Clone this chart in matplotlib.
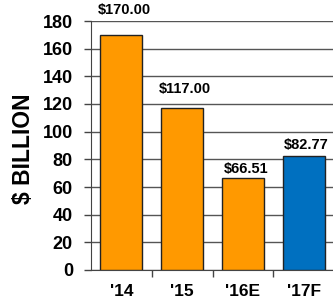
import matplotlib
matplotlib.use('Agg')
from matplotlib import pyplot as plt
import numpy as np

plt.rcParams['font.family'] = ['Liberation Sans', 'DejaVu Sans']
plt.rcParams['font.weight'] = 'bold'

# chart data
years = ["'14", "'15", "'16E", "'17F"]
values = [170.00, 117.00, 66.51, 82.77]
colors = ['#FF9900', '#FF9900', '#FF9900', '#0070C0']

fig = plt.figure(figsize=(3.33, 3.04), dpi=100)
ax = fig.add_axes([91/333, 1 - 270/304, 243/333, 249/304])

x = np.arange(len(years))
bars = ax.bar(x, values, width=0.69, color=colors, edgecolor='#222222', linewidth=1, zorder=3)

# value labels on top of bars (offsets in points, as placed in the original)
label_pad = [13, 9, 1.5, 2.5]
for xi, v, p in zip(x, values, label_pad):
    ax.annotate('$%.2f' % v, (xi, v), xytext=(2, p), textcoords='offset points',
                ha='center', va='bottom', fontsize=10.5, fontweight='bold')

ax.set_xlim(-0.5, len(years) - 0.5)
ax.set_ylim(0, 180)
ax.set_yticks(np.arange(0, 181, 20))
ax.tick_params(axis='y', labelsize=13, length=5, width=1, color='#444444', pad=8)
ax.grid(axis='y', color='#555555', linewidth=1, zorder=0)

ax.set_xticks(x)
ax.set_xticklabels(years, fontsize=12.5, fontweight='bold')
ax.set_xticks(np.arange(0.5, len(years) - 0.5, 1), minor=True)
ax.tick_params(axis='x', which='major', length=0, pad=10)
ax.tick_params(axis='x', which='minor', length=5, width=1, color='#444444')

for s in ['top', 'right']:
    ax.spines[s].set_visible(False)
ax.spines['left'].set_color('#444444')
ax.spines['bottom'].set_color('#444444')

ax.set_ylabel('$ BILLION', fontsize=16.5, fontweight='bold')
ax.yaxis.set_label_coords(-56/243, 0.486)

plt.savefig('out.png', dpi=100)
